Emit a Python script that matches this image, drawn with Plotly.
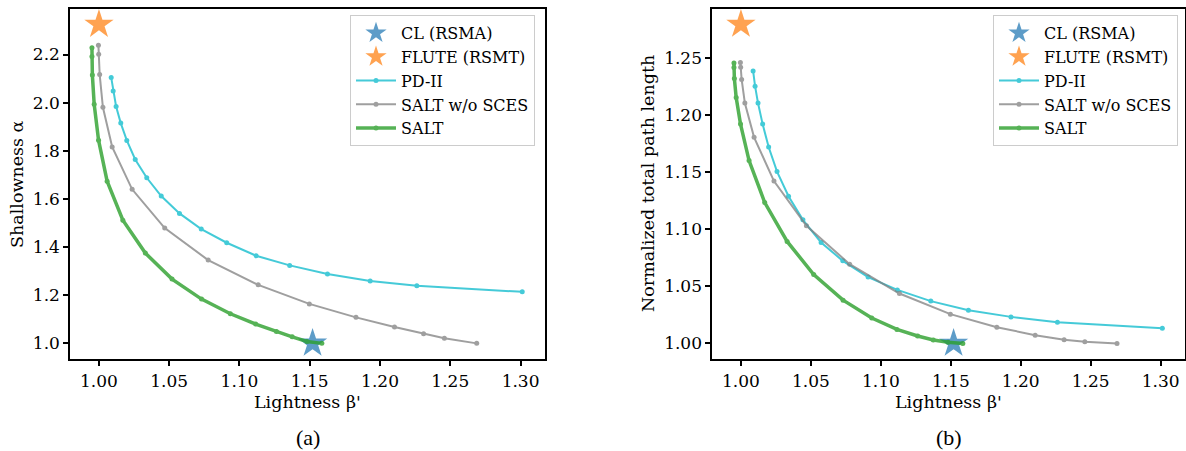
import plotly.graph_objects as go

# Lightness beta' (x) shared by both panels
salt_x = [0.995, 0.995, 0.9953, 0.9966, 0.9997, 1.0058, 1.017, 1.033, 1.052, 1.073,
          1.0935, 1.1115, 1.1263, 1.1375, 1.148, 1.1586]
salt_shallow = [2.228, 2.192, 2.115, 1.993, 1.844, 1.674, 1.512, 1.375, 1.267, 1.184,
                1.123, 1.080, 1.049, 1.027, 1.008, 1.0]
salt_path = [1.2453, 1.2412, 1.2316, 1.215, 1.1918, 1.1599, 1.1232, 1.0892, 1.0602, 1.0378,
             1.0222, 1.0122, 1.0065, 1.003, 1.001, 1.0]

nosces_x = [0.9996, 0.9998, 1.0005, 1.0028, 1.0094, 1.0236, 1.0468, 1.0777, 1.1133, 1.1497,
            1.1829, 1.2103, 1.231, 1.2458, 1.2688]
nosces_shallow = [2.239, 2.201, 2.117, 1.981, 1.816, 1.640, 1.479, 1.346, 1.243, 1.164,
                  1.108, 1.068, 1.040, 1.021, 1.0]
nosces_path = [1.2456, 1.2416, 1.2308, 1.2102, 1.1802, 1.142, 1.1029, 1.0693, 1.0436, 1.0256,
               1.0142, 1.0072, 1.0031, 1.0014, 1.0]

pd_x = [1.0087, 1.0101, 1.0122, 1.0155, 1.0198, 1.0258, 1.034, 1.0443, 1.0573, 1.0728,
        1.0909, 1.1118, 1.1357, 1.1626, 1.193, 1.2262, 1.3012]
pd_shallow = [2.105, 2.048, 1.984, 1.915, 1.843, 1.764, 1.688, 1.612, 1.540, 1.475,
              1.418, 1.364, 1.324, 1.288, 1.259, 1.239, 1.214]
pd_path = [1.2383, 1.225, 1.2102, 1.1918, 1.1718, 1.1503, 1.1287, 1.1081, 1.0883, 1.0722,
           1.058, 1.0468, 1.037, 1.029, 1.0232, 1.0186, 1.0133]

cl_x, cl_shallow, cl_path = [1.152], [1.0], [1.0]
flute_x, flute_shallow, flute_path = [1.0], [2.325], [1.279]

x_ticks = [1.00, 1.05, 1.10, 1.15, 1.20, 1.25, 1.30]
left_y_ticks = [1.0, 1.2, 1.4, 1.6, 1.8, 2.0, 2.2]
right_y_ticks = [1.00, 1.05, 1.10, 1.15, 1.20, 1.25]

FONT = "DejaVu Serif"
W, H = 1186, 451

fig = go.Figure()


def add_panel(xa, ya, legend, cl_y, flute_y, pd_y, nosces_y, salt_y):
    fig.add_trace(go.Scatter(x=cl_x, y=cl_y, mode="markers", name="CL (RSMA)",
                             marker=dict(symbol="star", size=22, color="#1f77b4"),
                             opacity=0.72, xaxis=xa, yaxis=ya, legend=legend))
    fig.add_trace(go.Scatter(x=flute_x, y=flute_y, mode="markers", name="FLUTE (RSMT)",
                             marker=dict(symbol="star", size=22, color="#ff7f0e"),
                             opacity=0.72, xaxis=xa, yaxis=ya, legend=legend))
    fig.add_trace(go.Scatter(x=pd_x, y=pd_y, mode="lines+markers", name="PD-II",
                             line=dict(color="#17becf", width=2),
                             marker=dict(size=5, color="#17becf"),
                             opacity=0.8, xaxis=xa, yaxis=ya, legend=legend))
    fig.add_trace(go.Scatter(x=nosces_x, y=nosces_y, mode="lines+markers", name="SALT w/o SCES",
                             line=dict(color="#7f7f7f", width=2),
                             marker=dict(size=5, color="#7f7f7f"),
                             opacity=0.75, xaxis=xa, yaxis=ya, legend=legend))
    fig.add_trace(go.Scatter(x=salt_x, y=salt_y, mode="lines+markers", name="SALT",
                             line=dict(color="#2ca02c", width=3.5),
                             marker=dict(size=5, color="#2ca02c"),
                             opacity=0.8, xaxis=xa, yaxis=ya, legend=legend))


add_panel("x", "y", "legend", cl_shallow, flute_shallow, pd_shallow, nosces_shallow, salt_shallow)
add_panel("x2", "y2", "legend2", cl_path, flute_path, pd_path, nosces_path, salt_path)

y_bot = 1 - 359.3 / H
y_top = 1 - 8.5 / H

axis_common = dict(showline=True, linecolor="black", linewidth=2, mirror=True,
                   ticks="outside", ticklen=5, tickwidth=1.5, tickcolor="black",
                   showgrid=False, zeroline=False,
                   tickfont=dict(family=FONT, size=17, color="black"))

legend_common = dict(y=1 - 15 / H, xanchor="right", yanchor="top", itemwidth=40,
                     bgcolor="rgba(255,255,255,0.8)", bordercolor="#cccccc", borderwidth=1,
                     font=dict(family=FONT, size=16, color="black"))

fig.update_layout(
    width=W, height=H, margin=dict(l=0, r=0, t=0, b=0),
    plot_bgcolor="white", paper_bgcolor="white",
    xaxis=dict(domain=[70.3 / W, 545 / W], range=[0.9796, 1.3174], tickvals=x_ticks,
               tickformat=".2f", anchor="y", **axis_common),
    yaxis=dict(domain=[y_bot, y_top], range=[0.9338, 2.3912], tickvals=left_y_ticks,
               tickformat=".1f", anchor="x", **axis_common),
    xaxis2=dict(domain=[712.4 / W, 1185 / W], range=[0.9796, 1.3174], tickvals=x_ticks,
                tickformat=".2f", anchor="y2", **axis_common),
    yaxis2=dict(domain=[y_bot, y_top], range=[0.9861, 1.2929], tickvals=right_y_ticks,
                tickformat=".2f", anchor="x2", **axis_common),
    legend=dict(x=535 / W, **legend_common),
    legend2=dict(x=1178 / W, **legend_common),
)

# axis titles and panel captions
labels = [
    ("Lightness β'", 307.5, 402, 0, FONT, 17.5),
    ("Lightness β'", 948.5, 402, 0, FONT, 17.5),
    ("Shallowness α", 17, 184, -90, FONT, 17.5),
    ("Normalized total path length", 648, 184, -90, FONT, 17.5),
    ("(a)", 307.5, 437, 0, "Liberation Serif", 22),
    ("(b)", 948.5, 437, 0, "Liberation Serif", 22),
]
for text, px, py, angle, family, size in labels:
    fig.add_annotation(text=text, x=px / W, y=1 - py / H, xref="paper", yref="paper",
                       showarrow=False, xanchor="center", yanchor="middle", textangle=angle,
                       font=dict(family=family, size=size, color="black"))

fig.write_html("out.html")
